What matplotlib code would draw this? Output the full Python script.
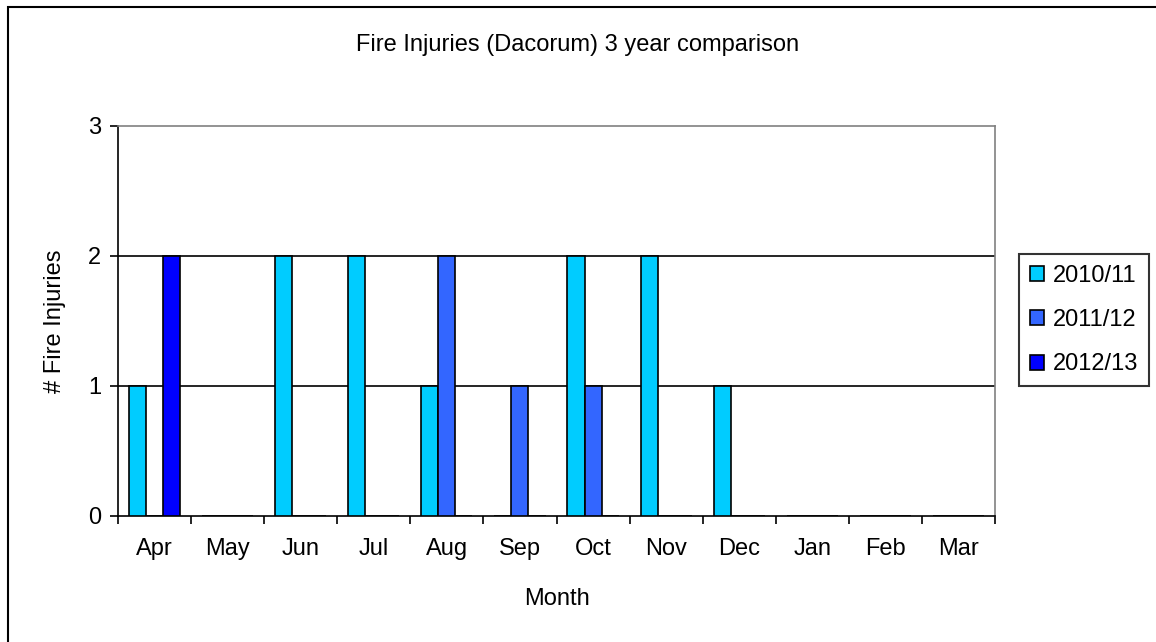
import numpy as np
import matplotlib.pyplot as plt
from matplotlib.patches import Rectangle

plt.rcParams['font.family'] = ['Liberation Sans', 'DejaVu Sans']

# Dados
months = ['Apr', 'May', 'Jun', 'Jul', 'Aug', 'Sep', 'Oct', 'Nov', 'Dec', 'Jan', 'Feb', 'Mar']
series_names = ['2010/11', '2011/12', '2012/13']
inj_2010 = [1, 0, 2, 2, 1, 0, 2, 2, 1, 0, 0, 0]
inj_2011 = [0, 0, 0, 0, 2, 1, 1, 0, 0, 0, 0, 0]
inj_2012 = [2, 0, 0, 0, 0, 0, 0, 0, 0, 0, 0, 0]
colors = ['#00CCFF', '#3366FF', '#0000FF']

fs = 17

fig = plt.figure(figsize=(11.56, 6.42), dpi=100)
ax = fig.add_axes([118 / 1156, 1 - 516 / 642, 877 / 1156, 390 / 642])

# borda externa
fig.patches.append(Rectangle((8 / 1156, -0.1), 2, 1 - 7 / 642 + 0.1,
                             transform=fig.transFigure, fill=False,
                             edgecolor='black', linewidth=1.5))

x = np.arange(len(months))
w = 0.233
for i, (vals, name) in enumerate(zip([inj_2010, inj_2011, inj_2012], series_names)):
    ax.bar(x + (i - 1) * w, vals, w, color=colors[i], edgecolor='black',
           linewidth=1.2, label=name, zorder=3)

ax.set_xlim(-0.5, len(months) - 0.5)
ax.set_ylim(0, 3)
ax.set_yticks([0, 1, 2, 3])
ax.set_xticks(np.arange(len(months) + 1) - 0.5)
ax.set_xticklabels([])
ax.set_xticks(x, minor=True)
ax.set_xticklabels(months, minor=True)
ax.tick_params(axis='x', which='minor', length=0, pad=16, labelsize=fs)
ax.tick_params(axis='x', which='major', length=6, width=1.2, direction='out')
ax.tick_params(axis='y', length=6, width=1.2, direction='out', labelsize=fs, pad=6)

for yv in [1, 2]:
    ax.axhline(yv, color='black', linewidth=1.2, zorder=1)

ax.spines['top'].set_color('#808080')
ax.spines['right'].set_color('#808080')
for s in ax.spines.values():
    s.set_linewidth(1.2)

ax.set_xlabel('Month', fontsize=fs, labelpad=20)
ax.set_ylabel('# Fire Injuries', fontsize=fs, labelpad=16)
fig.text(0.5, 1 - 45 / 642, 'Fire Injuries (Dacorum) 3 year comparison',
         ha='center', va='center', fontsize=fs)

leg = fig.legend(loc='upper left', bbox_to_anchor=(1019 / 1156, 1 - 254 / 642),
                 fontsize=fs, frameon=True, fancybox=False, edgecolor='black',
                 handlelength=0.6, handleheight=0.6, handletextpad=0.38,
                 labelspacing=0.95, borderpad=0.45, borderaxespad=0)
leg.get_frame().set_linewidth(1.5)

plt.savefig('out.png', dpi=100)
